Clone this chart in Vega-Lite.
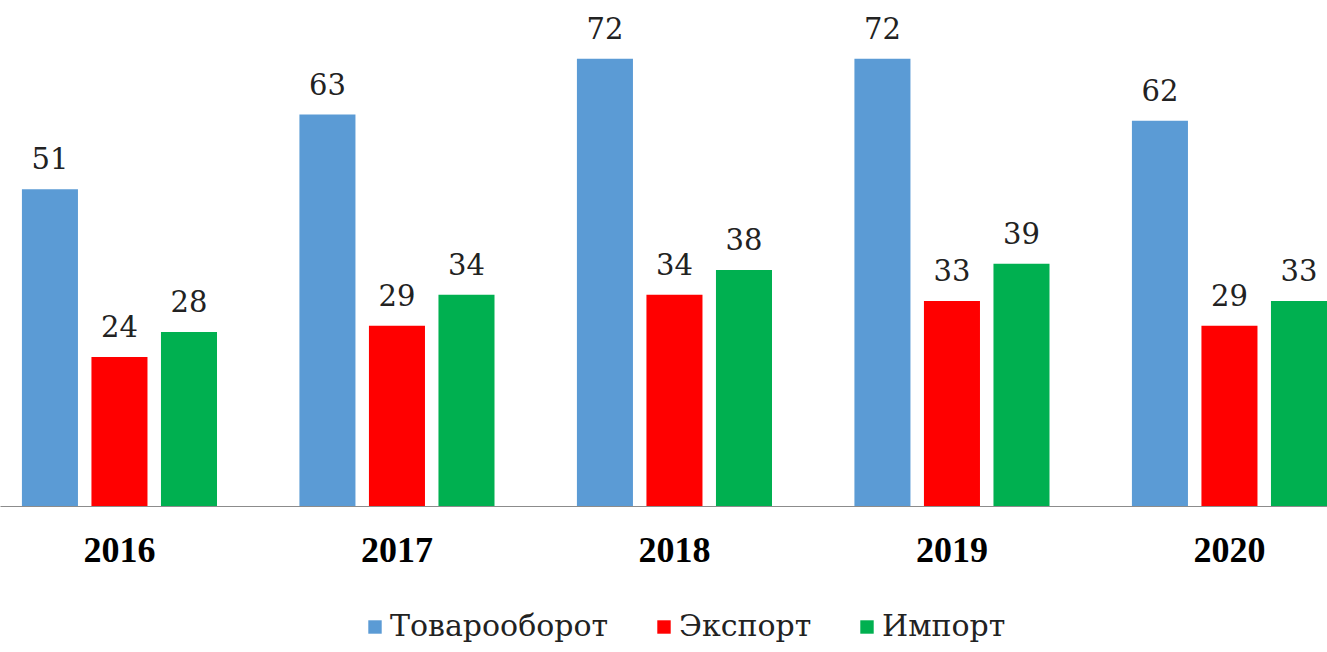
{
  "$schema": "https://vega.github.io/schema/vega-lite/v6.json",
  "width": 1327,
  "height": 497,
  "autosize": "none",
  "padding": {"left": 0, "top": 9, "right": 0, "bottom": 146},
  "background": "white",
  "config": {"view": {"stroke": null}, "font": "DejaVu Serif"},
  "data": {
    "values": [
      {"year": "2016", "series": "Товарооборот", "value": 51},
      {"year": "2016", "series": "Экспорт", "value": 24},
      {"year": "2016", "series": "Импорт", "value": 28},
      {"year": "2017", "series": "Товарооборот", "value": 63},
      {"year": "2017", "series": "Экспорт", "value": 29},
      {"year": "2017", "series": "Импорт", "value": 34},
      {"year": "2018", "series": "Товарооборот", "value": 72},
      {"year": "2018", "series": "Экспорт", "value": 34},
      {"year": "2018", "series": "Импорт", "value": 38},
      {"year": "2019", "series": "Товарооборот", "value": 72},
      {"year": "2019", "series": "Экспорт", "value": 33},
      {"year": "2019", "series": "Импорт", "value": 39},
      {"year": "2020", "series": "Товарооборот", "value": 62},
      {"year": "2020", "series": "Экспорт", "value": 29},
      {"year": "2020", "series": "Импорт", "value": 33}
    ]
  },
  "encoding": {
    "x": {
      "field": "year",
      "type": "nominal",
      "scale": {"paddingInner": 0.297, "paddingOuter": 0.0395, "align": 1},
      "axis": {
        "title": null,
        "labelAngle": 0,
        "labelFont": "Liberation Serif",
        "labelFontSize": 36,
        "labelFontWeight": "bold",
        "labelColor": "#000000",
        "ticks": false,
        "grid": false,
        "domainColor": "#8c8c8c",
        "domainWidth": 1,
        "labelPadding": 27
      }
    },
    "xOffset": {
      "field": "series",
      "type": "nominal",
      "sort": ["Товарооборот", "Экспорт", "Импорт"],
      "scale": {"paddingInner": 0.194, "paddingOuter": 0}
    },
    "y": {
      "field": "value",
      "type": "quantitative",
      "scale": {"domain": [0, 80]},
      "axis": null
    }
  },
  "layer": [
    {
      "mark": {"type": "bar"},
      "encoding": {
        "color": {
          "field": "series",
          "type": "nominal",
          "sort": ["Товарооборот", "Экспорт", "Импорт"],
          "scale": {
            "domain": ["Товарооборот", "Экспорт", "Импорт"],
            "range": ["#5B9BD5", "#FF0000", "#00B050"]
          },
          "legend": {
            "orient": "none",
            "legendX": 360,
            "legendY": 603,
            "direction": "horizontal",
            "title": null,
            "padding": 0,
            "symbolType": "square",
            "symbolSize": 180,
            "symbolStrokeWidth": 0,
            "labelFont": "DejaVu Serif",
            "labelFontSize": 30,
            "labelColor": "#222222",
            "labelOffset": 0,
            "labelLimit": 500,
            "columnPadding": 40
          }
        }
      }
    },
    {
      "mark": {
        "type": "text",
        "baseline": "alphabetic",
        "dy": -20,
        "fontSize": 29,
        "font": "DejaVu Serif",
        "color": "#222222"
      },
      "encoding": {"text": {"field": "value", "type": "quantitative"}}
    }
  ]
}
